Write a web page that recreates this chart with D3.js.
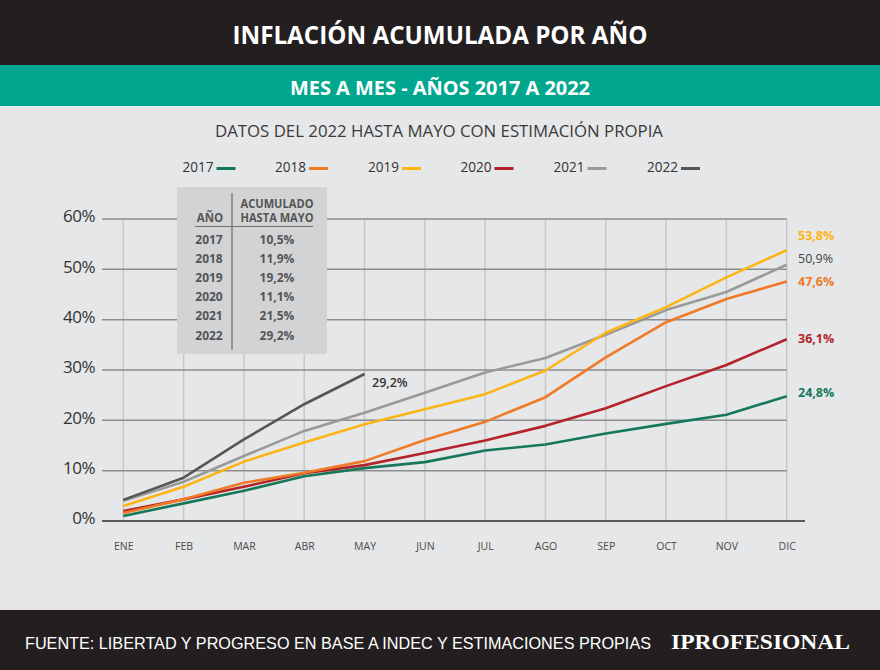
<!DOCTYPE html>
<html>
<head>
<meta charset="utf-8">
<script src="https://cdn.jsdelivr.net/npm/d3@7"></script>
<style>
  html, body { margin: 0; padding: 0; background: #e6e7e8; }
  svg { display: block; }
</style>
</head>
<body>
<svg id="chart" width="880" height="670"></svg>
<script>
// ---------- DATA ----------
const months = ["ENE","FEB","MAR","ABR","MAY","JUN","JUL","AGO","SEP","OCT","NOV","DIC"];
const years = ["2017","2018","2019","2020","2021","2022"];
const s2017 = [1.0, 3.5, 6.0, 8.9, 10.5, 11.7, 14.0, 15.2, 17.4, 19.3, 21.1, 24.8];
const s2018 = [1.6, 4.3, 7.6, 9.6, 11.9, 16.1, 19.7, 24.6, 32.5, 39.5, 44.1, 47.6];
const s2019 = [3.0, 6.8, 11.8, 15.6, 19.2, 22.2, 25.2, 29.9, 37.4, 42.5, 48.4, 53.8];
const s2020 = [2.0, 4.3, 6.8, 9.5, 11.1, 13.5, 16.0, 18.9, 22.4, 26.8, 31.0, 36.1];
const s2021 = [4.0, 7.8, 12.9, 17.9, 21.5, 25.5, 29.5, 32.4, 37.0, 41.9, 45.5, 50.9];
const s2022 = [4.2, 8.6, 16.2, 23.2, 29.2];
const yTicks = [0, 10, 20, 30, 40, 50, 60];
const tableYears = ["2017","2018","2019","2020","2021","2022"];
const tableValues = [10.5, 11.9, 19.2, 11.1, 21.5, 29.2];
const colors = ["#16785a", "#f07a26", "#fdb515", "#b4232a", "#9a9a9a", "#565656"];

const title = "INFLACIÓN ACUMULADA POR AÑO";
const subtitle = "MES A MES - AÑOS 2017 A 2022";
const note = "DATOS DEL 2022 HASTA MAYO CON ESTIMACIÓN PROPIA";
const source = "FUENTE: LIBERTAD Y PROGRESO EN BASE A INDEC Y ESTIMACIONES PROPIAS";
const brand = "IPROFESIONAL";

const seriesList = [s2017, s2018, s2019, s2020, s2021, s2022];
const fmt = v => d3.format(".1f")(v).replace(".", ",") + "%";

// ---------- SETUP ----------
const svg = d3.select("#chart");
const W = 880, H = 670;

// background bands
svg.append("rect").attr("x",0).attr("y",0).attr("width",W).attr("height",H).attr("fill","#e6e7e8");
svg.append("rect").attr("x",0).attr("y",0).attr("width",W).attr("height",65).attr("fill","#231f20");
svg.append("rect").attr("x",0).attr("y",65).attr("width",W).attr("height",41).attr("fill","#00a78e");
svg.append("rect").attr("x",0).attr("y",610).attr("width",W).attr("height",60).attr("fill","#231f20");

svg.append("text").attr("x",440).attr("y",44).attr("text-anchor","middle")
  .attr("font-family","'Open Sans', sans-serif").attr("font-weight",700).attr("font-size",25)
  .attr("fill","#fff").attr("textLength",415).attr("lengthAdjust","spacingAndGlyphs").text(title);
svg.append("text").attr("x",440).attr("y",95).attr("text-anchor","middle")
  .attr("font-family","'Open Sans', sans-serif").attr("font-weight",700).attr("font-size",20)
  .attr("fill","#fff").attr("textLength",300).attr("lengthAdjust","spacingAndGlyphs").text(subtitle);
svg.append("text").attr("x",439).attr("y",136.5).attr("text-anchor","middle")
  .attr("font-family","'Open Sans', sans-serif").attr("font-weight",400).attr("font-size",17)
  .attr("fill","#3a3a3a").attr("textLength",448).attr("lengthAdjust","spacingAndGlyphs").text(note);

// legend
const legendX = [182.5, 275, 368, 460.5, 553.5, 647];
const lg = svg.append("g");
years.forEach((y, i) => {
  lg.append("text").attr("x", legendX[i]).attr("y", 172)
    .attr("font-family","'Open Sans', sans-serif").attr("font-size",15).attr("fill","#333")
    .attr("textLength",31).attr("lengthAdjust","spacingAndGlyphs").text(y);
  lg.append("line").attr("x1", legendX[i] + 34).attr("x2", legendX[i] + 53)
    .attr("y1", 168.5).attr("y2", 168.5).attr("stroke", colors[i]).attr("stroke-width", 3);
});

// scales
const x = d3.scalePoint().domain(months).range([123.3, 786.7]);
const y = d3.scaleLinear().domain([0, 60]).range([521, 219]);

// vertical grid
svg.append("g").selectAll("line").data(months).join("line")
  .attr("x1", d => x(d)).attr("x2", d => x(d))
  .attr("y1", y(60)).attr("y2", y(0))
  .attr("stroke", "#c6c7c9").attr("stroke-width", 1.5);

// horizontal grid
svg.append("g").selectAll("line").data(yTicks.filter(t => t > 0)).join("line")
  .attr("x1", 102).attr("x2", x("DIC"))
  .attr("y1", d => y(d)).attr("y2", d => y(d))
  .attr("stroke", "#8c8d8f").attr("stroke-width", 1.5);
// baseline
svg.append("line").attr("x1", 102).attr("x2", 805).attr("y1", y(0)).attr("y2", y(0))
  .attr("stroke", "#58595b").attr("stroke-width", 2);

// y axis labels
const yAxis = d3.axisLeft(y).tickValues(yTicks).tickSize(0).tickPadding(0).tickFormat(d => d + "%");
const yg = svg.append("g").attr("transform", "translate(95,-3)").call(yAxis);
yg.select(".domain").remove();
yg.selectAll("text").attr("font-family","'Open Sans', sans-serif").attr("font-size",17)
  .attr("fill","#333").attr("dy","0.35em").attr("letter-spacing","-0.5");

// x axis labels
const xAxis = d3.axisBottom(x).tickSize(0).tickPadding(0);
const xg = svg.append("g").attr("transform", "translate(0,542)").call(xAxis);
xg.select(".domain").remove();
xg.selectAll("text").attr("font-family","'Open Sans', sans-serif").attr("font-size",10.5)
  .attr("fill","#4a4a4a").attr("dy","0.35em").attr("y",4);

// table box
const tb = svg.append("g");
tb.append("rect").attr("x",177).attr("y",187).attr("width",150).attr("height",167).attr("fill","#d2d3d5");
tb.append("line").attr("x1",232).attr("x2",232).attr("y1",193).attr("y2",350).attr("stroke","#6d6e70").attr("stroke-width",1.2);
tb.append("line").attr("x1",195).attr("x2",313).attr("y1",226.5).attr("y2",226.5).attr("stroke","#6d6e70").attr("stroke-width",1.2);
const tfont = "'Open Sans', sans-serif";
tb.append("text").attr("x",210).attr("y",222).attr("text-anchor","middle").attr("font-family",tfont)
  .attr("font-weight",700).attr("font-size",11.5).attr("fill","#555").text("AÑO");
tb.append("text").attr("x",277).attr("y",207.5).attr("text-anchor","middle").attr("font-family",tfont)
  .attr("font-weight",700).attr("font-size",11.5).attr("fill","#555")
  .attr("textLength",73).attr("lengthAdjust","spacingAndGlyphs").text("ACUMULADO");
tb.append("text").attr("x",277).attr("y",222).attr("text-anchor","middle").attr("font-family",tfont)
  .attr("font-weight",700).attr("font-size",11.5).attr("fill","#555")
  .attr("textLength",73).attr("lengthAdjust","spacingAndGlyphs").text("HASTA MAYO");
tableYears.forEach((yr, i) => {
  const by = 243.5 + i * 19.2;
  tb.append("text").attr("x",209).attr("y",by).attr("text-anchor","middle").attr("font-family",tfont)
    .attr("font-weight",700).attr("font-size",12).attr("fill","#555").text(yr);
  tb.append("text").attr("x",277).attr("y",by).attr("text-anchor","middle").attr("font-family",tfont)
    .attr("font-weight",700).attr("font-size",12).attr("fill","#555").text(fmt(tableValues[i]));
});

// lines
const line = d3.line().x((d, i) => x(months[i])).y(d => y(d));
const drawOrder = [0, 3, 1, 4, 2, 5];
drawOrder.forEach(i => {
  svg.append("path").datum(seriesList[i]).attr("d", line)
    .attr("fill","none").attr("stroke", colors[i]).attr("stroke-width", 2.6)
    .attr("stroke-linejoin","round");
});

// end labels
const endLabelY = {0: 393, 1: 281.5, 2: 236, 3: 339, 4: 258.5};
const endLabelColor = {0: "#16785a", 1: "#f07a26", 2: "#fdb515", 3: "#b4232a", 4: "#444"};
[2, 4, 1, 3, 0].forEach(i => {
  const s = seriesList[i];
  svg.append("text").attr("x", 798).attr("y", endLabelY[i]).attr("dy","0.35em")
    .attr("font-family", tfont).attr("font-weight", i === 4 ? 400 : 700).attr("font-size", 12.5)
    .attr("fill", endLabelColor[i]).text(fmt(s[s.length - 1]));
});
// 2022 label
svg.append("text").attr("x", 372).attr("y", 382.5).attr("dy","0.35em")
  .attr("font-family", tfont).attr("font-weight", 600).attr("font-size", 12.5)
  .attr("fill", "#333").text(fmt(s2022[s2022.length - 1]));

// footer
svg.append("text").attr("x", 25).attr("y", 648.5)
  .attr("font-family","'Liberation Sans', Arial, sans-serif").attr("font-size",16.5).attr("fill","#fff")
  .attr("textLength",626).attr("lengthAdjust","spacingAndGlyphs").text(source);
svg.append("text").attr("x", 671).attr("y", 649)
  .attr("font-family","'Liberation Serif', 'DejaVu Serif', serif").attr("font-weight",700).attr("font-size",22).attr("fill","#fff")
  .attr("textLength",179).attr("lengthAdjust","spacingAndGlyphs").text(brand);
</script>
</body>
</html>
